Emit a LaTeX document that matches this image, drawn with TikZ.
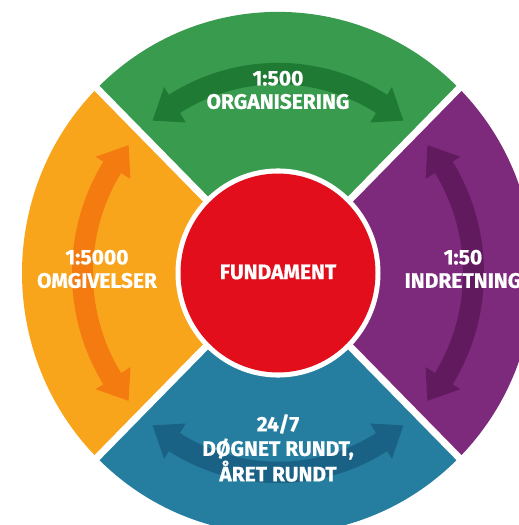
\documentclass[tikz,border=0pt]{standalone}
\usepackage{fontspec}
\setmainfont{Fira Sans}[BoldFeatures={FakeBold=0.7}]
\definecolor{cgreen}{HTML}{389B4E}
\definecolor{dgreen}{HTML}{1F7A34}
\definecolor{corange}{HTML}{F9A51C}
\definecolor{dorange}{HTML}{F47B10}
\definecolor{cpurple}{HTML}{7E2A7C}
\definecolor{dpurple}{HTML}{621A5F}
\definecolor{cblue}{HTML}{257E9F}
\definecolor{dblue}{HTML}{1A6186}
\definecolor{cred}{HTML}{E20E1B}
\newcommand\ringarrow[3]{%
  \fill[#3] (#1:195) -- ({#1+8}:215) -- ({#1+8}:206)
    arc[start angle={#1+8}, end angle={#2-8}, radius=206]
    -- ({#2-8}:215) -- (#2:195) -- ({#2-8}:174) -- ({#2-8}:185)
    arc[start angle={#2-8}, end angle={#1+8}, radius=185]
    -- ({#1+8}:174) -- cycle;}
\tikzset{
  lab/.style={text=white, font=\bfseries\fontsize{21}{23.5}\selectfont, align=center, inner sep=0pt},
}
\begin{document}
\begin{tikzpicture}[x=1pt,y=1pt]
\useasboundingbox (0,0) rectangle (519,525);
\begin{scope}[shift={(278,252)}, yscale=1.02]
  \fill[cgreen]  (0,0) -- (45:256) arc[start angle=45, end angle=135, radius=256] -- cycle;
  \fill[corange] (0,0) -- (135:256) arc[start angle=135, end angle=225, radius=256] -- cycle;
  \fill[cblue]   (0,0) -- (225:256) arc[start angle=225, end angle=315, radius=256] -- cycle;
  \fill[cpurple] (0,0) -- (-45:256) arc[start angle=-45, end angle=45, radius=256] -- cycle;
  \ringarrow{50}{130}{dgreen}
  \ringarrow{140}{220}{dorange}
  \ringarrow{230}{310}{dblue}
  \ringarrow{-40}{40}{dpurple}
  \draw[white, line width=7pt] (45:275) -- (225:275);
  \draw[white, line width=7pt] (135:275) -- (-45:275);
  \fill[white] (0,0) circle[radius=102.5];
  \fill[cred] (0,0) circle[radius=97.5];
\end{scope}
\node[lab] (fund) at (278,253) {FUNDAMENT};
\node[lab] (org) at (278,435) {1:500\\ORGANISERING};
\node[lab] (omg) at (97,256) {1:5000\\OMGIVELSER};
\node[lab] (ind) at (463,256) {1:50\\INDRETNING};
\node[lab, font=\bfseries\fontsize{21}{24.5}\selectfont] (dog) at (278,77) {24/7\\DØGNET RUNDT,\\ÅRET RUNDT};
\end{tikzpicture}
\end{document}
